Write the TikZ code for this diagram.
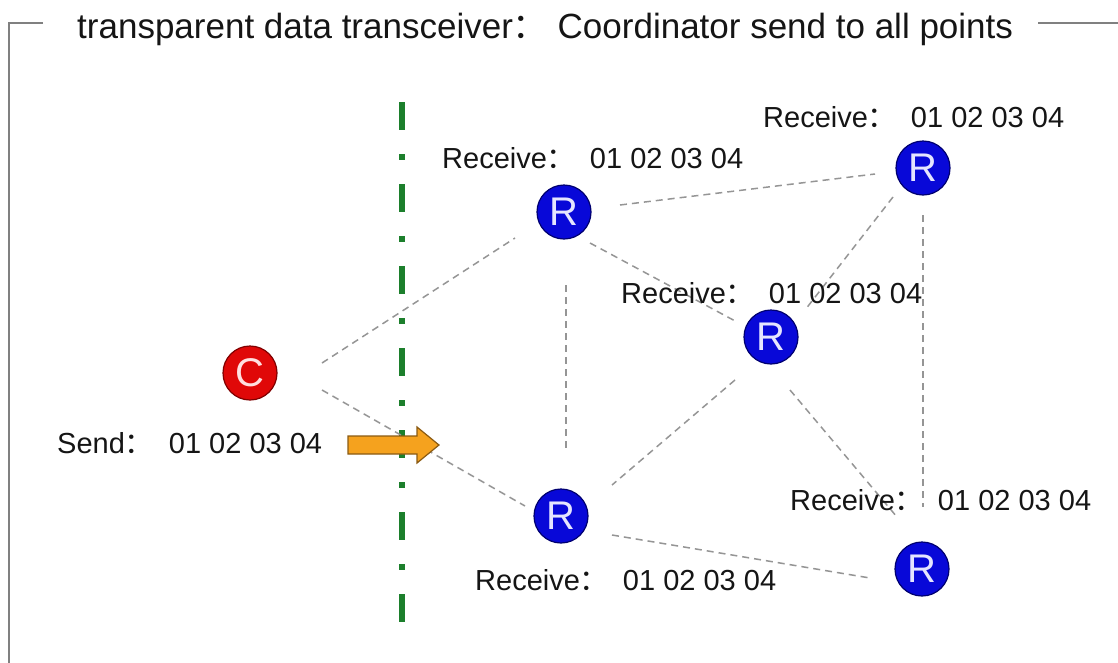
\documentclass[tikz,border=0pt]{standalone}
\usepackage{fontspec}
\setmainfont{Liberation Sans}
\newfontfamily\cjk{Noto Sans CJK SC}
\usetikzlibrary{calc}

\definecolor{framegray}{HTML}{808080}
\definecolor{linkgray}{HTML}{959595}
\definecolor{routerblue}{HTML}{0808D8}
\definecolor{routeredge}{HTML}{000070}
\definecolor{coordred}{HTML}{E00808}
\definecolor{coordedge}{HTML}{800000}
\definecolor{splitgreen}{HTML}{1C7F2C}
\definecolor{arroworange}{HTML}{F5A21E}
\definecolor{arrowedge}{HTML}{8A5A12}
\definecolor{labeltext}{HTML}{151515}

\newcommand{\fwcolon}{{\cjk ：}}

\tikzset{
  router/.style={circle, minimum size=54pt, inner sep=0pt, fill=routerblue,
    draw=routeredge, line width=1.2pt, text=white!90!blue,
    font=\fontsize{40}{40}\selectfont},
  coord/.style={router, fill=coordred, draw=coordedge, text=white!88!red},
  link/.style={draw=linkgray, line width=1.5pt, dash pattern=on 7pt off 5pt},
  rxlabel/.style={anchor=base west, inner sep=0pt, text=labeltext,
    font=\fontsize{29}{33}\selectfont},
  titlefont/.style={anchor=base west, inner sep=0pt, text=labeltext,
    font=\fontsize{35}{39}\selectfont},
}

\begin{document}
\begin{tikzpicture}[x=1pt, y=-1pt]
\useasboundingbox (0,0) rectangle (1118,662);

% frame with its title
\coordinate (f1) at (43,23);
\coordinate (f0) at (9,23);
\coordinate (f2) at (9,670);
\coordinate (f3) at (1038,23);
\coordinate (f4) at (1120,23);
\draw[framegray, line width=2pt] (f1) -- (f0) -- (f2);
\draw[framegray, line width=2pt] (f3) -- (f4);
\node[titlefont] (title) at (77,38)
  {transparent data transceiver\fwcolon\ Coordinator send to all points};

% dash-dot separator
\coordinate (g0) at (402,102);
\coordinate (g1) at (402,622);
\draw[splitgreen, line width=6pt, dash pattern=on 28pt off 24pt on 6pt off 24pt] (g0) -- (g1);

% nodes
\node[coord]  (C)  at (250,373) {C};
\node[router] (R1) at (564,212) {R};
\node[router] (R2) at (923,168) {R};
\node[router] (R3) at (771,337) {R};
\node[router] (R4) at (561,516) {R};
\node[router] (R5) at (922,569) {R};

% links between nodes
\draw[link] ($(C)+(72,-10)$) -- ($(R1)+(-49,26)$);
\draw[link] ($(C)+(72,17)$)  -- ($(R4)+(-36,-10)$);
\draw[link] ($(R1)+(56,-7)$) -- ($(R2)+(-48,6)$);
\draw[link] ($(R1)+(26,31)$) -- ($(R3)+(-34,-15)$);
\draw[link] ($(R1)+(2,73)$)  -- ($(R4)+(5,-66)$);
\draw[link] ($(R2)+(-30,29)$) -- ($(R3)+(34,-27)$);
\draw[link] ($(R2)+(0,47)$)  -- ($(R5)+(1,-62)$);
\draw[link] ($(R3)+(-36,43)$) -- ($(R4)+(51,-31)$);
\draw[link] ($(R3)+(19,53)$) -- ($(R5)+(-25,-52)$);
\draw[link] ($(R4)+(51,19)$) -- ($(R5)+(-52,9)$);

% send arrow
\draw[fill=arroworange, draw=arrowedge, line width=1.2pt, line join=miter]
  (348,436) -- (417,436) -- (417,427) -- (439,445) -- (417,463) -- (417,454) -- (348,454) -- cycle;

% labels
\node[rxlabel] (sendlbl) at (57,453) {Send\fwcolon\hspace{15pt}01 02 03 04};
\node[rxlabel] (l1) at (442,168) {Receive\fwcolon\hspace{14pt}01 02 03 04};
\node[rxlabel] (l2) at (763,127) {Receive\fwcolon\hspace{14pt}01 02 03 04};
\node[rxlabel] (l3) at (621,303) {Receive\fwcolon\hspace{14pt}01 02 03 04};
\node[rxlabel] (l5) at (790,510) {Receive\fwcolon\hspace{14pt}01 02 03 04};
\node[rxlabel] (l4) at (475,590) {Receive\fwcolon\hspace{14pt}01 02 03 04};

\end{tikzpicture}
\end{document}
